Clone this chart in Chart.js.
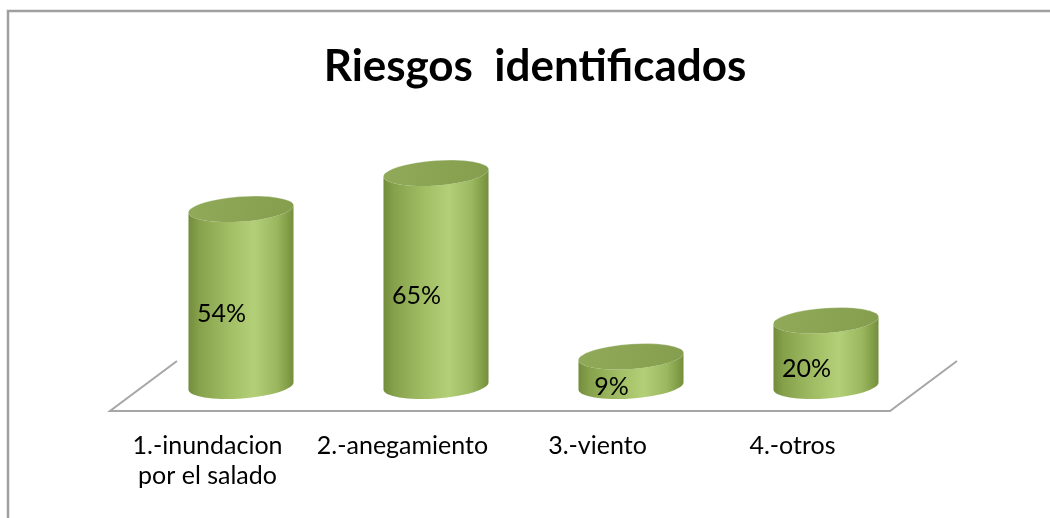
<!DOCTYPE html>
<html>
<head>
<meta charset="utf-8">
<script src="https://cdn.jsdelivr.net/npm/chart.js@4"></script>
<style>
  html, body { margin: 0; padding: 0; background: #fff; }
  #wrap { width: 1050px; height: 518px; position: relative; }
</style>
</head>
<body>
<div id="wrap"><canvas id="riesgosChart" width="1050" height="518"></canvas></div>
<script>
const categories = [['1.-inundacion', 'por el salado'], '2.-anegamiento', '3.-viento', '4.-otros'];
const percentValues = [54, 65, 9, 20];
const valueLabels = ['54%', '65%', '9%', '20%'];
const chartTitle = 'Riesgos  identificados';

const FONT = 'Lato, Calibri, Carlito, sans-serif';
const DEPTH_X = 67, DEPTH_Y = -50; // floor depth in pixels

// page frame + floor plane
const floorPlugin = {
    id: 'floor',
    beforeDraw(chart) {
        const c = chart.ctx;
        c.save();
        c.strokeStyle = '#a0a0a0';
        c.lineWidth = 2.5;
        c.strokeRect(8, 11, 1200, 700);
        c.restore();
    },
    beforeDatasetsDraw(chart) {
        const { ctx, chartArea } = chart;
        const y = chartArea.bottom;
        ctx.save();
        ctx.strokeStyle = '#a6a6a6';
        ctx.lineWidth = 2;
        ctx.beginPath();
        ctx.moveTo(chartArea.left + DEPTH_X, y + DEPTH_Y);
        ctx.lineTo(chartArea.left, y);
        ctx.lineTo(chartArea.right, y);
        ctx.lineTo(chartArea.right + DEPTH_X, y + DEPTH_Y);
        ctx.stroke();
        ctx.restore();
    }
};

// cylinders drawn from the bar elements, pushed back to mid depth
const cylinderPlugin = {
    id: 'cylinders',
    afterDatasetsDraw(chart) {
        const ctx = chart.ctx;
        const meta = chart.getDatasetMeta(0);
        const rot = -0.07;
        meta.data.forEach((bar, i) => {
            const cx = bar.x + DEPTH_X / 2;
            const rx = bar.width / 2;
            const ry = 12.5;
            const topY = bar.y + DEPTH_Y / 2;
            const baseY = bar.base + DEPTH_Y / 2;

            ctx.save();
            const g = ctx.createLinearGradient(cx - rx, 0, cx + rx, 0);
            g.addColorStop(0, '#728c3c');
            g.addColorStop(0.1, '#86a14b');
            g.addColorStop(0.4, '#a2bf66');
            g.addColorStop(0.62, '#b3cf77');
            g.addColorStop(0.84, '#9bb860');
            g.addColorStop(0.95, '#809c45');
            g.addColorStop(1, '#748e3f');
            ctx.beginPath();
            ctx.ellipse(cx, baseY, rx, ry, rot, 0, Math.PI, false);
            ctx.ellipse(cx, topY, rx, ry, rot, Math.PI, 0, true);
            ctx.closePath();
            ctx.fillStyle = g;
            ctx.fill();

            const tg = ctx.createLinearGradient(cx - rx, topY - ry, cx + rx, topY + ry);
            tg.addColorStop(0, '#90aa5a');
            tg.addColorStop(1, '#849e4e');
            ctx.beginPath();
            ctx.ellipse(cx, topY, rx, ry, rot, 0, Math.PI * 2);
            ctx.fillStyle = tg;
            ctx.fill();
            ctx.strokeStyle = 'rgba(255,255,255,0.35)';
            ctx.lineWidth = 1;
            ctx.beginPath();
            ctx.ellipse(cx, topY, rx, ry, rot, Math.PI * 1.1, Math.PI * 1.9);
            ctx.stroke();

            // value label
            ctx.fillStyle = '#000';
            ctx.font = '25px ' + FONT;
            ctx.textAlign = 'center';
            ctx.textBaseline = 'middle';
            ctx.fillText(valueLabels[i], bar.x + 14, (bar.y + bar.base) / 2 - 9);
            ctx.restore();
        });
    }
};

new Chart(document.getElementById('riesgosChart'), {
    type: 'bar',
    data: {
        labels: categories,
        datasets: [{
            data: percentValues,
            backgroundColor: 'rgba(0,0,0,0)',
            borderWidth: 0,
            categoryPercentage: 1,
            barPercentage: 0.54
        }]
    },
    options: {
        responsive: false,
        animation: false,
        events: [],
        layout: { padding: { left: 110, right: 90, top: 30, bottom: 15 } },
        plugins: {
            legend: { display: false },
            tooltip: { enabled: false },
            title: {
                display: true,
                text: chartTitle,
                color: '#000',
                font: { family: FONT, size: 44, weight: 'bold' },
                padding: { top: 10, bottom: 20 }
            }
        },
        scales: {
            x: {
                grid: { display: false },
                border: { display: false },
                ticks: {
                    color: '#000',
                    padding: 12,
                    maxRotation: 0,
                    autoSkip: false,
                    font: { family: FONT, size: 25 }
                }
            },
            y: {
                position: 'right',
                min: 0,
                max: 91,
                grid: { display: false },
                border: { display: false },
                ticks: { display: false },
                afterFit: (scale) => { scale.width = 70; }
            }
        }
    },
    plugins: [floorPlugin, cylinderPlugin]
});
</script>
</body>
</html>
